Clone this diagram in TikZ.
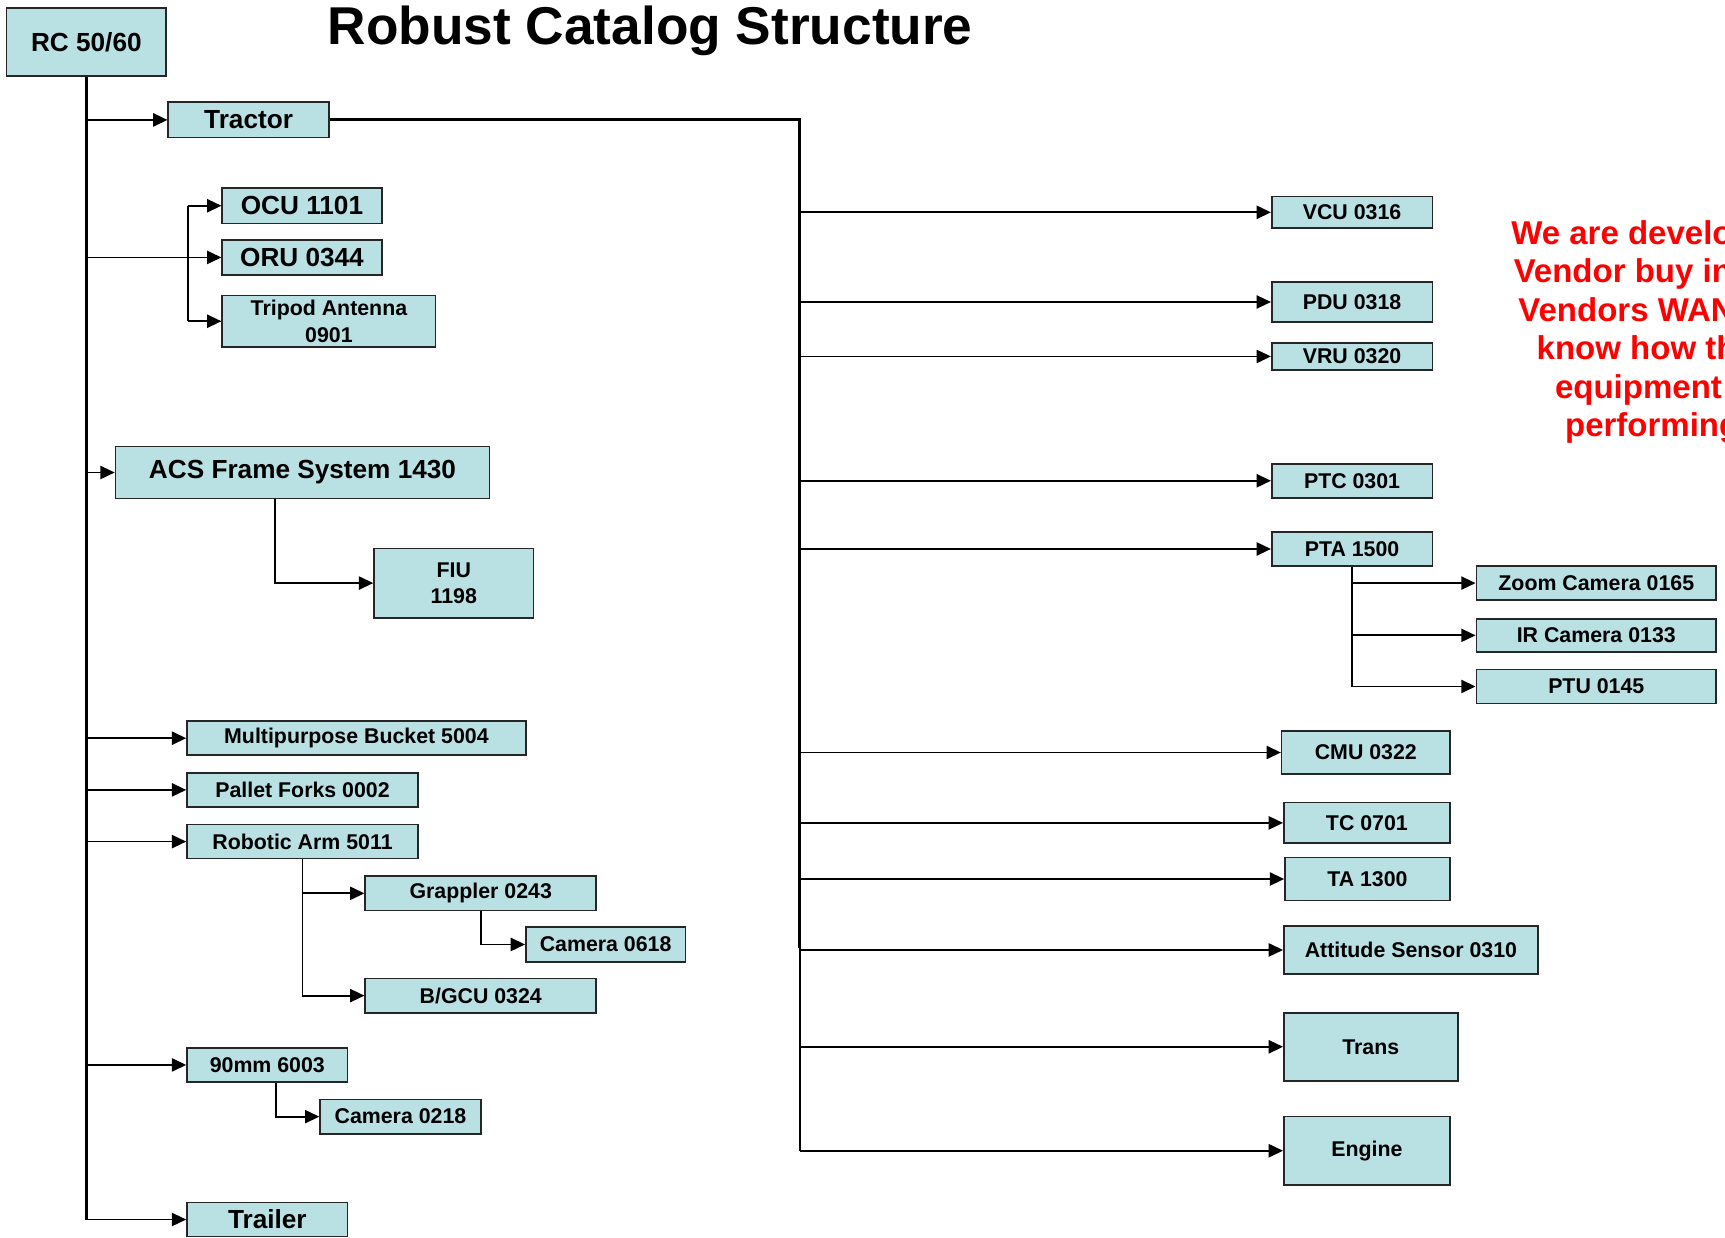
\documentclass[tikz,border=0pt]{standalone}
\usepackage{fontspec}
\setmainfont{Liberation Sans}
\usepackage{tikz}
\usetikzlibrary{arrows.meta, positioning}

\definecolor{boxfill}{RGB}{185,224,227}
\definecolor{notered}{RGB}{255,0,0}

\tikzset{
  part/.style={draw=black!85, line width=1.5pt, fill=boxfill, inner sep=0pt, align=center,
    font=\fontsize{19.4}{24}\selectfont\bfseries},
  bigpart/.style={part, font=\fontsize{23.8}{28}\selectfont\bfseries},
  link/.style={line width=1.6pt},
  feed/.style={link, -{Triangle[length=13pt,width=12pt]}},
  trunk/.style={line width=2.6pt},
}

\begin{document}
\begin{tikzpicture}[x=1pt, y=-1pt]
			\clip (0,0) rectangle (1568,1125);
			
			% Title and note
			\node[anchor=base, font=\fontsize{48.4}{56}\selectfont\bfseries] (title) at (591,40) {Robust Catalog Structure};
			\node[text=notered, align=center, font=\fontsize{30}{35}\selectfont\bfseries] (note) at (1506,302)
				{We are developing\\Vendor buy in and\\Vendors WANT to\\know how their\\equipment is\\performing.};
			
			% Left tree
			\node[bigpart, minimum width=145, minimum height=62] (rc) at (78.5,38) {RC 50/60};
			\node[bigpart, minimum width=146, minimum height=32] (tractor) at (226,109) {Tractor};
			\node[bigpart, minimum width=145, minimum height=32] (ocu) at (274.5,187) {OCU 1101};
			\node[bigpart, minimum width=145, minimum height=32] (oru) at (274.5,234) {ORU 0344};
			\node[part, minimum width=194, minimum height=47] (tripod) at (299,292) {Tripod Antenna\\0901};
			\node[bigpart, minimum width=340, minimum height=47] (acs) at (275,429.5) {ACS Frame System 1430};
			\node[part, minimum width=145, minimum height=63] (fiu) at (412.5,530) {FIU\\1198};
			\node[part, minimum width=308, minimum height=31] (bucket) at (324,671) {Multipurpose Bucket 5004};
			\node[part, minimum width=210, minimum height=31] (forks) at (275,718) {Pallet Forks 0002};
			\node[part, minimum width=210, minimum height=31] (arm) at (275,765) {Robotic Arm 5011};
			\node[part, minimum width=210, minimum height=31] (grappler) at (437,812) {Grappler 0243};
			\node[part, minimum width=145, minimum height=32] (camA) at (550.5,858.5) {Camera 0618};
			\node[part, minimum width=210, minimum height=31] (bgcu) at (437,905) {B/GCU 0324};
			\node[part, minimum width=146, minimum height=31] (gun) at (243,968) {90mm 6003};
			\node[part, minimum width=146, minimum height=31] (camB) at (364,1015) {Camera 0218};
			\node[bigpart, minimum width=146, minimum height=31] (trailer) at (243,1108.5) {Trailer};
			
			% Right tree
			\node[part, minimum width=146, minimum height=29] (vcu) at (1229,193) {VCU 0316};
			\node[part, minimum width=146, minimum height=36] (pdu) at (1229,274.5) {PDU 0318};
			\node[part, minimum width=146, minimum height=25] (vru) at (1229,324) {VRU 0320};
			\node[part, minimum width=146, minimum height=31] (ptc) at (1229,437) {PTC 0301};
			\node[part, minimum width=146, minimum height=31] (pta) at (1229,499) {PTA 1500};
			\node[part, minimum width=218, minimum height=31] (zoomcam) at (1451,530) {Zoom Camera 0165};
			\node[part, minimum width=218, minimum height=30] (ircam) at (1451,577.5) {IR Camera 0133};
			\node[part, minimum width=218, minimum height=31] (ptu) at (1451,624) {PTU 0145};
			\node[part, minimum width=153, minimum height=39] (cmu) at (1241.5,684) {CMU 0322};
			\node[part, minimum width=151, minimum height=37] (tc) at (1242.5,748) {TC 0701};
			\node[part, minimum width=150, minimum height=39] (ta) at (1243,799) {TA 1300};
			\node[part, minimum width=231, minimum height=44] (att) at (1282.5,863.5) {Attitude Sensor 0310};
			\node[part, minimum width=158, minimum height=62] (trans) at (1246,951.5) {Trans};
			\node[part, minimum width=151, minimum height=62] (engine) at (1242.5,1046) {Engine};
			
			% Buses
			\coordinate (obus) at (171,186);
			\coordinate (rbus) at (727,107);
			\coordinate (rbusend) at (727,862);
			\draw[trunk] (rc.south) -- (rc.south |- trailer.west);
			\draw[trunk] (tractor.east) -- (tractor.east -| rbus) -- (rbusend);
			\draw[link] (rbusend) -- (rbus |- engine.west);
			\draw[link] (obus |- ocu.west) -- (obus |- tripod.west);
			
			% Arrows
			\foreach \n in {tractor,oru,acs,bucket,forks,arm,gun,trailer}
				\draw[feed] (rc.south |- \n.west) -- (\n.west);
			\foreach \n in {ocu,tripod}
				\draw[feed] (obus |- \n.west) -- (\n.west);
			\foreach \n in {vcu,pdu,vru,ptc,pta,cmu,tc,ta,att,trans,engine}
				\draw[feed] (rbus |- \n.west) -- (\n.west);
			\foreach \n in {zoomcam,ircam,ptu}
				\draw[feed] (pta.south) |- (\n.west);
			\draw[feed] ([xshift=-25pt]acs.south) |- (fiu.west);
			\draw[feed] (arm.south) |- (grappler.west);
			\draw[feed] (arm.south) |- (bgcu.west);
			\draw[feed] (grappler.south) |- (camA.west);
			\draw[feed] ([xshift=8pt]gun.south) |- (camB.west);
\end{tikzpicture}
\end{document}
